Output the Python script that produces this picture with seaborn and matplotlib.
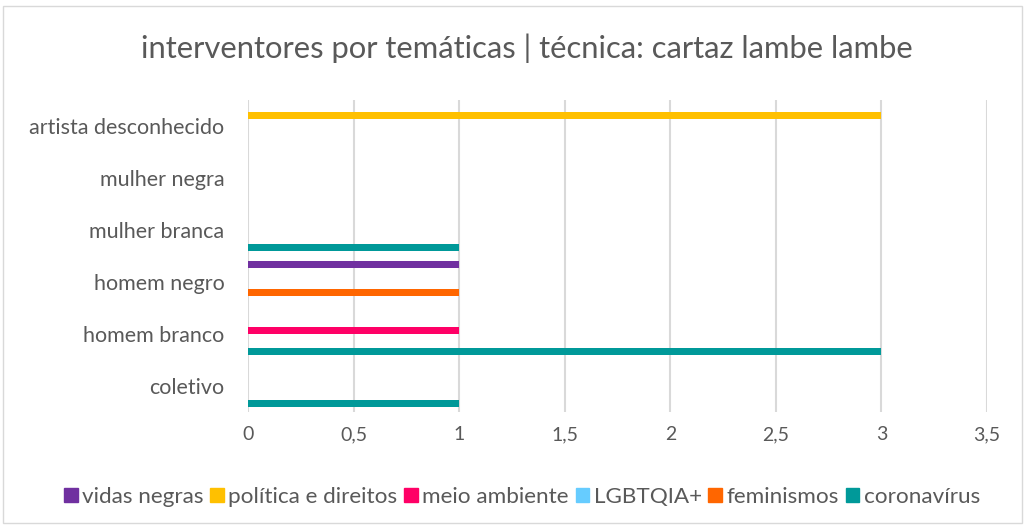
import pandas as pd
import matplotlib.pyplot as plt
import seaborn as sns
from matplotlib.patches import Rectangle

sns.set_theme(style="white")
plt.rcParams['font.family'] = ['Lato', 'DejaVu Sans']

# data
categories = ['artista desconhecido', 'mulher negra', 'mulher branca',
              'homem negro', 'homem branco', 'coletivo']
series = ['vidas negras', 'política e direitos', 'meio ambiente',
          'LGBTQIA+', 'feminismos', 'coronavírus']
vidas_negras = [0, 0, 0, 1, 0, 0]
politica = [3, 0, 0, 0, 0, 0]
meio_ambiente = [0, 0, 0, 0, 1, 0]
lgbtqia = [0, 0, 0, 0, 0, 0]
feminismos = [0, 0, 0, 1, 0, 0]
coronavirus = [0, 0, 1, 0, 3, 1]
colors = ['#7030A0', '#FFC000', '#FF0066', '#66CCFF', '#FF6600', '#009999']
xticks = [0, 0.5, 1, 1.5, 2, 2.5, 3, 3.5]
xtick_labels = ['0', '0,5', '1', '1,5', '2', '2,5', '3', '3,5']

values = [vidas_negras, politica, meio_ambiente, lgbtqia, feminismos, coronavirus]
rows = []
for name, vals in zip(series, values):
    for cat, v in zip(categories, vals):
        rows.append({'categoria': cat, 'tema': name, 'valor': v})
df = pd.DataFrame(rows)

txt = '#595959'
fig = plt.figure(figsize=(10.25, 5.26), dpi=100)
fig.patches.append(Rectangle((3 / 1025, 3 / 526), 1019 / 1025, 517 / 526,
                             transform=fig.transFigure, fill=False,
                             edgecolor='#d9d9d9', linewidth=1))
ax = fig.add_axes([248 / 1025, 1 - 412 / 526, 739 / 1025, 312 / 526])

sns.barplot(data=df, x='valor', y='categoria', hue='tema', order=categories,
            hue_order=series, palette=colors, saturation=1, width=0.8,
            linewidth=0, errorbar=None, ax=ax)

ax.set_xlim(0, 3.5)
ax.set_xticks(xticks)
ax.set_xticklabels(xtick_labels)
ax.grid(axis='x', color='#d9d9d9', linewidth=1.5)
ax.set_axisbelow(True)
for s in ax.spines.values():
    s.set_visible(False)
ax.tick_params(axis='both', length=0, colors=txt)
ax.tick_params(axis='x', pad=10, labelsize=14)
ax.tick_params(axis='y', pad=17, labelsize=15.5)
ax.set_xlabel('')
ax.set_ylabel('')

fig.text(527 / 1025, 1 - 48 / 526, 'interventores por temáticas | técnica: cartaz lambe lambe',
         ha='center', va='center', fontsize=22.3, color=txt)

ax.legend_.remove()
handles = [Rectangle((0, 0), 1, 1, color=c) for c in colors]
fig.legend(handles, series, loc='center', bbox_to_anchor=(522 / 1025, 1 - 497 / 526),
           ncol=6, frameon=False, fontsize=16.2, labelcolor=txt,
           handlelength=0.6, handleheight=0.6, handletextpad=0.2,
           columnspacing=0.3)

fig.savefig('out.png', dpi=100)
